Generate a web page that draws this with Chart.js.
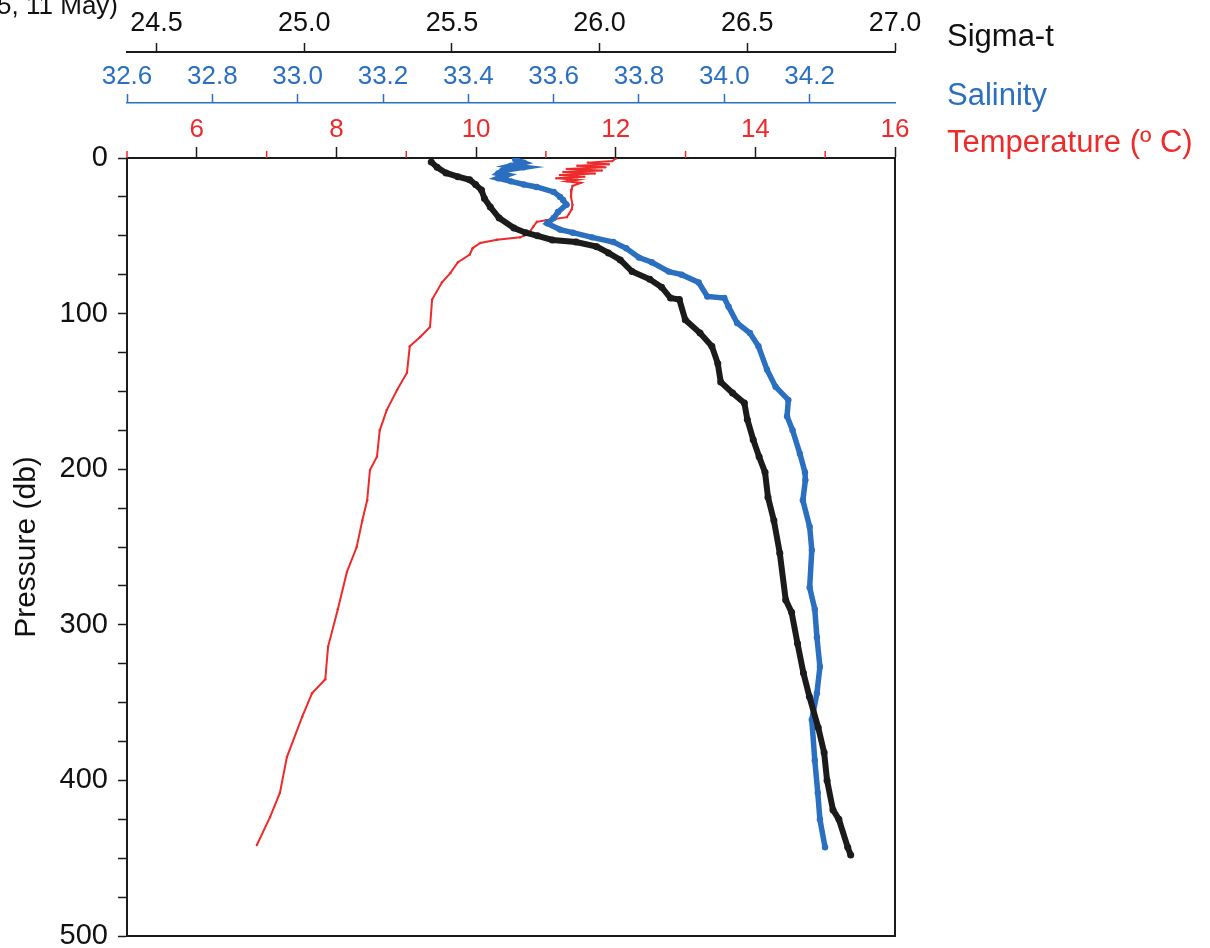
<!DOCTYPE html>
<html>
<head>
<meta charset="utf-8">
<script src="https://cdn.jsdelivr.net/npm/chart.js@4.4.1/dist/chart.umd.min.js"></script>
<style>
  html, body { margin: 0; padding: 0; background: #fff; }
</style>
</head>
<body>
<canvas id="ctdChart" width="1210" height="948"></canvas>
<script>
// CTD profile (pressure in db)
const sigmaPressure = [2.5, 6, 9.6, 12, 14, 17, 20.6, 26, 31.5, 38.6, 45, 48, 50, 52.7, 54, 57, 61, 65.5, 73, 78, 83, 90, 91, 104, 112.5, 121, 132, 144, 151, 157.5, 168, 181, 192, 202, 218, 233, 254, 284, 292, 312, 331, 346, 366, 382, 400, 419, 425, 443, 448];
const sigmaValues   = [25.43, 25.45, 25.48, 25.52, 25.56, 25.58, 25.60, 25.61, 25.63, 25.66, 25.71, 25.75, 25.79, 25.84, 25.92, 25.99, 26.03, 26.07, 26.11, 26.17, 26.21, 26.24, 26.27, 26.29, 26.34, 26.38, 26.40, 26.41, 26.45, 26.49, 26.50, 26.52, 26.54, 26.56, 26.57, 26.59, 26.61, 26.63, 26.65, 26.67, 26.69, 26.71, 26.74, 26.76, 26.77, 26.79, 26.81, 26.84, 26.85];

const salPressure = [1, 3, 5, 6, 8, 10, 11, 13, 15, 17, 18.6, 21.8, 25, 27, 30, 34.7, 38.6, 42, 46, 48, 51, 54, 58, 64, 67, 73, 75, 80, 89, 90, 95.6, 106, 112.5, 121, 136, 147, 155.5, 166, 175, 190, 202, 207, 220, 237, 252, 276, 290, 308, 327, 344, 361, 387, 408, 425, 443];
const salValues   = [33.51, 33.53, 33.50, 33.53, 33.48, 33.47, 33.49, 33.47, 33.50, 33.53, 33.56, 33.60, 33.615, 33.622, 33.63, 33.61, 33.60, 33.585, 33.615, 33.645, 33.69, 33.74, 33.77, 33.80, 33.83, 33.87, 33.90, 33.94, 33.96, 34.00, 34.01, 34.03, 34.06, 34.08, 34.10, 34.12, 34.15, 34.147, 34.16, 34.177, 34.189, 34.19, 34.184, 34.20, 34.205, 34.20, 34.212, 34.217, 34.224, 34.217, 34.205, 34.212, 34.219, 34.224, 34.236];

const tempPressure = [0.5, 2, 3, 4, 5, 6, 7, 8, 9, 10, 11, 12, 13, 14, 15, 16, 18, 20, 25, 30, 33, 36, 38, 40, 41, 44, 47.5, 50, 51, 52.5, 54.6, 58, 62, 67, 74, 80, 91, 108.6, 115, 121, 138, 149, 162, 175, 192, 200.5, 220, 233, 250, 266, 290, 314, 335, 344, 359, 385, 408, 423.5, 441.5];
const tempValues   = [12.0, 11.95, 11.6, 11.9, 11.45, 11.85, 11.3, 11.8, 11.25, 11.7, 11.2, 11.55, 11.15, 11.45, 11.3, 11.5, 11.38, 11.37, 11.36, 11.38, 11.37, 11.33, 11.3, 11.0, 10.87, 10.82, 10.77, 10.68, 10.63, 10.3, 10.06, 9.95, 9.91, 9.74, 9.63, 9.51, 9.37, 9.34, 9.2, 9.05, 9.01, 8.87, 8.72, 8.62, 8.58, 8.48, 8.44, 8.37, 8.29, 8.15, 8.02, 7.88, 7.84, 7.65, 7.51, 7.29, 7.19, 7.05, 6.86];

// tick labels
const sigmaTicks = [24.5, 25.0, 25.5, 26.0, 26.5, 27.0];
const salTicks = [32.6, 32.8, 33.0, 33.2, 33.4, 33.6, 33.8, 34.0, 34.2];
const tempTicks = [6, 8, 10, 12, 14, 16];
const tempMinorTicks = [5, 7, 9, 11, 13, 15];

const BLACK = '#1b1b1b';
const BLUE = '#2b6fc0';
const RED = '#ee2b2b';
const FONT = '"Liberation Sans", Arial, sans-serif';

Chart.defaults.font.family = FONT;

function toPoints(xs, ps) {
    return xs.map((v, i) => ({ x: v, y: ps[i] }));
}

// box, minor ticks and the labels that sit outside the axes
const extras = {
    id: 'extras',
    afterDraw(chart) {
        const { ctx, chartArea } = chart;
        const tScale = chart.scales.xTemp;
        ctx.save();
        ctx.strokeStyle = BLACK;
        ctx.lineWidth = 2;
        ctx.beginPath();
        ctx.moveTo(chartArea.right, chartArea.top);
        ctx.lineTo(chartArea.right, chartArea.bottom);
        ctx.lineTo(chartArea.left, chartArea.bottom);
        ctx.stroke();

        ctx.strokeStyle = RED;
        ctx.lineWidth = 1.5;
        tempMinorTicks.forEach(v => {
            const x = tScale.getPixelForValue(v);
            ctx.beginPath();
            ctx.moveTo(x, tScale.bottom);
            ctx.lineTo(x, tScale.bottom - 7);
            ctx.stroke();
        });

        const tx = chartArea.right + 52;
        ctx.textBaseline = 'middle';
        ctx.textAlign = 'left';
        ctx.font = '31px ' + FONT;
        ctx.fillStyle = '#111';
        ctx.fillText('Sigma-t', tx, 37);
        ctx.fillStyle = BLUE;
        ctx.fillText('Salinity', tx, 96);
        ctx.fillStyle = RED;
        ctx.fillText('Temperature (º C)', tx, 143);

        ctx.fillStyle = '#111';
        ctx.font = '26px ' + FONT;
        ctx.textAlign = 'right';
        ctx.textBaseline = 'alphabetic';
        ctx.fillText('5, 11 May)', 118, 14);
        ctx.restore();
    }
};

const ctx = document.getElementById('ctdChart').getContext('2d');
const ctdChart = new Chart(ctx, {
    type: 'scatter',
    data: {
        datasets: [
            {
                label: 'Sigma-t',
                data: toPoints(sigmaValues, sigmaPressure),
                xAxisID: 'xSigma',
                yAxisID: 'y',
                showLine: true,
                borderColor: BLACK,
                backgroundColor: BLACK,
                borderWidth: 6,
                pointRadius: 3.5,
                pointBorderWidth: 0,
                order: 0
            },
            {
                label: 'Salinity',
                data: toPoints(salValues, salPressure),
                xAxisID: 'xSal',
                yAxisID: 'y',
                showLine: true,
                borderColor: BLUE,
                backgroundColor: BLUE,
                borderWidth: 5.5,
                pointRadius: 3.2,
                pointBorderWidth: 0,
                order: 1
            },
            {
                label: 'Temperature',
                data: toPoints(tempValues, tempPressure),
                xAxisID: 'xTemp',
                yAxisID: 'y',
                showLine: true,
                borderColor: RED,
                backgroundColor: RED,
                borderWidth: 2,
                pointRadius: 1.2,
                pointBorderWidth: 0,
                order: 2
            }
        ]
    },
    options: {
        responsive: false,
        animation: false,
        layout: { padding: { left: 0, right: 315, top: 0, bottom: 12 } },
        plugins: {
            legend: { display: false },
            tooltip: { enabled: false }
        },
        scales: {
            y: {
                type: 'linear',
                position: 'left',
                reverse: true,
                min: 0,
                max: 500,
                afterFit: s => {
                    s.width = 127;
                    s.paddingTop = 0;
                    s.paddingBottom = 0;
                },
                ticks: {
                    stepSize: 25,
                    autoSkip: false,
                    callback: v => (v % 100 === 0 ? v : ''),
                    font: { size: 29 },
                    color: '#111',
                    padding: 10
                },
                grid: { drawOnChartArea: false, tickLength: 9, tickColor: BLACK, tickWidth: 1.5 },
                border: { color: BLACK, width: 2 },
                title: {
                    display: true,
                    text: 'Pressure (db)',
                    font: { size: 30 },
                    color: '#111',
                    padding: { top: 9, bottom: 0 }
                }
            },
            xSigma: {
                type: 'linear',
                position: 'top',
                min: 24.4,
                max: 27.0,
                weight: 2,
                afterBuildTicks: s => { s.ticks = sigmaTicks.map(v => ({ value: v })); },
                afterFit: s => { s.height = 52; },
                ticks: {
                    autoSkip: false,
                    maxRotation: 0,
                    callback: v => v.toFixed(1),
                    font: { size: 27 },
                    color: '#111',
                    padding: 3
                },
                grid: { drawOnChartArea: false, tickLength: 9, tickColor: BLACK, tickWidth: 1.5 },
                border: { color: BLACK, width: 2 }
            },
            xSal: {
                type: 'linear',
                position: 'top',
                min: 32.6,
                max: 34.4,
                weight: 1,
                afterBuildTicks: s => { s.ticks = salTicks.map(v => ({ value: v })); },
                afterFit: s => { s.height = 51; },
                ticks: {
                    autoSkip: false,
                    maxRotation: 0,
                    callback: v => v.toFixed(1),
                    font: { size: 26 },
                    color: BLUE,
                    padding: 2
                },
                grid: { drawOnChartArea: false, tickLength: 9, tickColor: BLUE, tickWidth: 1.5 },
                border: { color: BLUE, width: 1.5 }
            },
            xTemp: {
                type: 'linear',
                position: 'top',
                min: 5,
                max: 16,
                weight: 0,
                afterBuildTicks: s => { s.ticks = tempTicks.map(v => ({ value: v })); },
                afterFit: s => { s.height = 55; },
                ticks: {
                    autoSkip: false,
                    maxRotation: 0,
                    font: { size: 26 },
                    color: RED,
                    padding: 2
                },
                grid: { drawOnChartArea: false, tickLength: 11, tickColor: BLACK, tickWidth: 1.5 },
                border: { color: BLACK, width: 2 }
            }
        }
    },
    plugins: [extras]
});
</script>
</body>
</html>
